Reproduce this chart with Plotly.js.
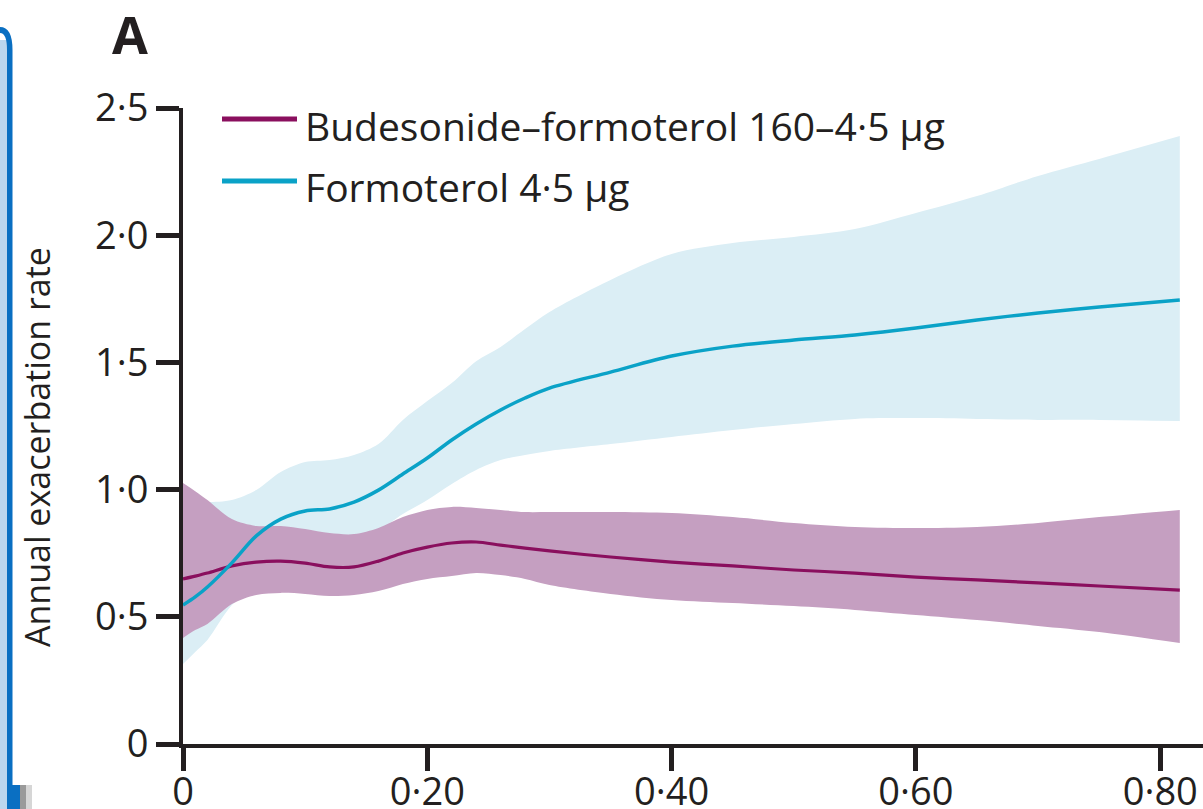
<!DOCTYPE html>
<html>
<head>
<meta charset="utf-8">
<script src="https://cdn.plot.ly/plotly-3.0.1.min.js"></script>
<style>
html,body{margin:0;padding:0;background:#fff;}
#chart{width:1203px;height:809px;}
</style>
</head>
<body>
<div id="chart"></div>
<script>
// ---- data ----
const xVals = [0, 0.01, 0.02, 0.04, 0.06, 0.08, 0.10, 0.12, 0.14, 0.16, 0.18, 0.20, 0.22, 0.24, 0.26, 0.28, 0.30,
               0.35, 0.40, 0.45, 0.50, 0.55, 0.60, 0.65, 0.70, 0.75, 0.816];

const formoterolRate  = [0.546, 0.578, 0.617, 0.712, 0.818, 0.884, 0.916, 0.924, 0.951, 0.998, 1.061, 1.124, 1.195, 1.258, 1.313, 1.360, 1.399,
                         1.462, 1.525, 1.564, 1.588, 1.608, 1.635, 1.667, 1.694, 1.718, 1.745];
const formoterolUpper = [0.959, 0.955, 0.951, 0.959, 0.998, 1.069, 1.108, 1.116, 1.136, 1.179, 1.274, 1.348, 1.419, 1.505, 1.561, 1.631, 1.698,
                         1.824, 1.926, 1.969, 1.993, 2.024, 2.087, 2.154, 2.233, 2.300, 2.390];
const formoterolLower = [0.314, 0.362, 0.409, 0.546, 0.625, 0.704, 0.755, 0.790, 0.814, 0.841, 0.904, 0.959, 1.022, 1.077, 1.116, 1.136, 1.152,
                         1.179, 1.207, 1.234, 1.258, 1.278, 1.281, 1.278, 1.274, 1.274, 1.270];

const budesonideRate  = [0.649, 0.660, 0.672, 0.700, 0.715, 0.719, 0.711, 0.696, 0.696, 0.719, 0.751, 0.774, 0.790, 0.794, 0.782, 0.770, 0.759,
                         0.735, 0.715, 0.700, 0.684, 0.672, 0.656, 0.645, 0.633, 0.621, 0.605];
const budesonideUpper = [1.026, 0.994, 0.959, 0.884, 0.857, 0.857, 0.845, 0.829, 0.825, 0.849, 0.892, 0.920, 0.932, 0.928, 0.920, 0.912, 0.912,
                         0.912, 0.908, 0.892, 0.869, 0.853, 0.849, 0.853, 0.869, 0.892, 0.920];
const budesonideLower = [0.417, 0.448, 0.472, 0.550, 0.586, 0.594, 0.590, 0.582, 0.586, 0.601, 0.629, 0.649, 0.660, 0.672, 0.664, 0.649, 0.625,
                         0.590, 0.566, 0.554, 0.542, 0.527, 0.507, 0.487, 0.464, 0.440, 0.397];

const seriesNames = ['Budesonide\u2013formoterol 160\u20134\u00b75 \u00b5g', 'Formoterol 4\u00b75 \u00b5g'];
const xTickVals = [0, 0.2, 0.4, 0.6, 0.8];
const xTickText = ['0', '0\u00b720', '0\u00b740', '0\u00b760', '0\u00b780'];
const yTickVals = [0, 0.5, 1.0, 1.5, 2.0, 2.5];
const yTickText = ['0', '0\u00b75', '1\u00b70', '1\u00b75', '2\u00b70', '2\u00b75'];
const yTitle = 'Annual exacerbation rate';
const panelLabel = 'A';

// ---- styling ----
const W = 1203, H = 809;
const M = {l: 183, r: 0, t: 108, b: 65};
const PW = W - M.l - M.r, PH = H - M.t - M.b;
const px = v => (v - M.l) / PW;          // pixel x -> paper x
const py = v => (H - M.b - v) / PH;      // pixel y -> paper y

const INK = '#231f20';
const PURPLE = '#8a0f5e', PURPLE_FILL = '#c59fc1';
const BLUE = '#0aa2c7', BLUE_FILL = '#dbeef5';
const FONT = 'Open Sans, Liberation Sans, sans-serif';
const SPL = {shape: 'spline', smoothing: 0.9};

const traces = [
  {x: xVals, y: formoterolLower, mode: 'lines', line: Object.assign({width: 0, color: BLUE_FILL}, SPL), hoverinfo: 'skip', showlegend: false},
  {x: xVals, y: formoterolUpper, mode: 'lines', fill: 'tonexty', fillcolor: BLUE_FILL, line: Object.assign({width: 0, color: BLUE_FILL}, SPL), hoverinfo: 'skip', showlegend: false},
  {x: xVals, y: budesonideLower, mode: 'lines', line: Object.assign({width: 0, color: PURPLE_FILL}, SPL), hoverinfo: 'skip', showlegend: false},
  {x: xVals, y: budesonideUpper, mode: 'lines', fill: 'tonexty', fillcolor: PURPLE_FILL, line: Object.assign({width: 0, color: PURPLE_FILL}, SPL), hoverinfo: 'skip', showlegend: false},
  {x: xVals, y: budesonideRate, mode: 'lines', name: seriesNames[0], line: Object.assign({width: 3.2, color: PURPLE}, SPL), showlegend: false},
  {x: xVals, y: formoterolRate, mode: 'lines', name: seriesNames[1], line: Object.assign({width: 3.5, color: BLUE}, SPL), showlegend: false}
];

const axisCommon = {
  showline: true, linewidth: 4, linecolor: INK,
  ticks: 'outside', ticklen: 23, tickwidth: 5, tickcolor: INK,
  showgrid: false, zeroline: false, fixedrange: true,
  tickfont: {family: FONT, size: 38, color: INK}
};

const shapes = [
  // legend samples
  {type: 'line', xref: 'paper', yref: 'paper', x0: px(222), x1: px(297), y0: py(119), y1: py(119), line: {color: PURPLE, width: 5}},
  {type: 'line', xref: 'paper', yref: 'paper', x0: px(222), x1: px(297), y0: py(181), y1: py(181), line: {color: BLUE, width: 5}},
  // page frame fragment at the left edge
  {type: 'rect', xref: 'paper', yref: 'paper', x0: px(-5), x1: px(8), y0: py(809), y1: py(40), fillcolor: '#bcd6ee', line: {width: 0}, layer: 'below'},
  {type: 'path', xref: 'paper', yref: 'paper',
   path: 'M' + px(-5) + ',' + py(27) + ' L' + px(0) + ',' + py(27) + ' Q' + px(12.5) + ',' + py(27) + ' ' + px(12.5) + ',' + py(50) +
         ' L' + px(12.5) + ',' + py(785) + ' L' + px(20) + ',' + py(785) + ' L' + px(20) + ',' + py(809) + ' L' + px(7) + ',' + py(809) +
         ' L' + px(7) + ',' + py(50) + ' Q' + px(7) + ',' + py(33) + ' ' + px(0) + ',' + py(33) + ' L' + px(-5) + ',' + py(33) + ' Z',
   fillcolor: '#0a6fc2', line: {width: 0}, layer: 'below'},
  {type: 'rect', xref: 'paper', yref: 'paper', x0: px(20), x1: px(26), y0: py(809), y1: py(785), fillcolor: '#9a9a9a', line: {width: 0}, layer: 'below'},
  {type: 'rect', xref: 'paper', yref: 'paper', x0: px(26), x1: px(32), y0: py(809), y1: py(785), fillcolor: '#d6d6d6', line: {width: 0}, layer: 'below'}
];

const annotations = [
  {xref: 'paper', yref: 'paper', x: px(303), y: py(125), xanchor: 'left', yanchor: 'middle', showarrow: false,
   text: seriesNames[0], font: {family: FONT, size: 39, color: INK}},
  {xref: 'paper', yref: 'paper', x: px(303), y: py(186), xanchor: 'left', yanchor: 'middle', showarrow: false,
   text: seriesNames[1], font: {family: FONT, size: 39, color: INK}},
  {xref: 'paper', yref: 'paper', x: px(37), y: py(447), xanchor: 'center', yanchor: 'middle', showarrow: false, textangle: -90,
   text: yTitle, font: {family: FONT, size: 34, color: INK}},
  {xref: 'paper', yref: 'paper', x: px(130), y: py(34), xanchor: 'center', yanchor: 'middle', showarrow: false,
   text: '<b>' + panelLabel + '</b>', font: {family: FONT, size: 52, color: INK}}
];

const layout = {
  width: W, height: H,
  margin: M,
  paper_bgcolor: '#ffffff', plot_bgcolor: '#ffffff',
  showlegend: false,
  xaxis: Object.assign({}, axisCommon, {range: [0, 0.835], tickmode: 'array', tickvals: xTickVals, ticktext: xTickText, ticklabelstandoff: -12}),
  yaxis: Object.assign({}, axisCommon, {range: [0, 2.5], tickmode: 'array', tickvals: yTickVals, ticktext: yTickText, ticklabelstandoff: 0}),
  shapes: shapes,
  annotations: annotations
};

Plotly.newPlot('chart', traces, layout, {staticPlot: true, displayModeBar: false});
</script>
</body>
</html>
